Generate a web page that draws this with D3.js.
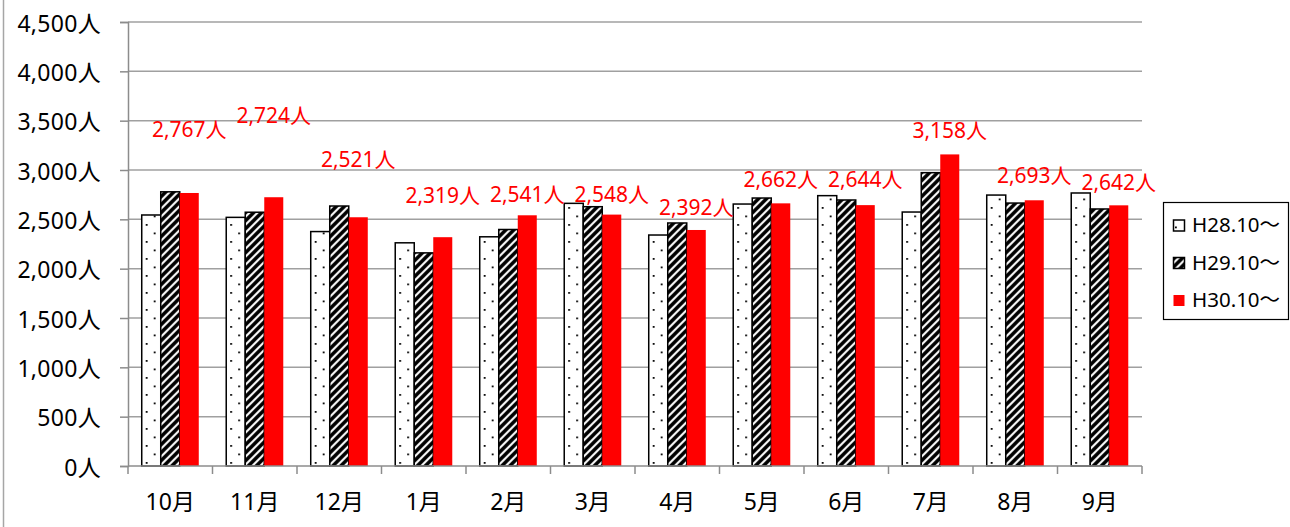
<!DOCTYPE html>
<html>
<head>
<meta charset="utf-8">
<script src="https://cdn.jsdelivr.net/npm/d3@7/dist/d3.min.js"></script>
<style>
  body { margin: 0; background: #fff; }
  svg { display: block; }
</style>
</head>
<body>
<div id="chart"></div>
<script>
const W = 1290;
const H = 527;

// Data
const months = ["10月", "11月", "12月", "1月", "2月", "3月", "4月", "5月", "6月", "7月", "8月", "9月"];
const seriesNames = ["H28.10〜", "H29.10〜", "H30.10〜"];
const h28 = [2544, 2520, 2376, 2262, 2323, 2662, 2341, 2655, 2740, 2574, 2746, 2767];
const h29 = [2779, 2572, 2635, 2160, 2397, 2628, 2463, 2716, 2696, 2973, 2665, 2605];
const h30 = [2767, 2724, 2521, 2319, 2541, 2548, 2392, 2662, 2644, 3158, 2693, 2642];
// where the red value labels sit (in people, baseline), hand placed like the original
const labelAt = [3334, 3476, 3033, 2665, 2679, 2679, 2544, 2831, 2831, 3324, 2865, 2797];
const yTicks = [0, 500, 1000, 1500, 2000, 2500, 3000, 3500, 4000, 4500];

const margin = { left: 128, right: 148, top: 22, bottom: 61 };
const fmt = d3.format(",");
const font = "'Noto Sans', 'Noto Sans CJK JP', sans-serif";

const svg = d3.select("#chart")
    .append("svg")
    .attr("width", W)
    .attr("height", H);

// Patterns
const defs = svg.append("defs");

const dots = defs.append("pattern")
    .attr("id", "dots")
    .attr("patternUnits", "userSpaceOnUse")
    .attr("x", 1)
    .attr("y", 0)
    .attr("width", 16)
    .attr("height", 17);
dots.append("rect").attr("width", 16).attr("height", 17).attr("fill", "#fff");
dots.append("rect").attr("x", 3).attr("y", 3).attr("width", 1.8).attr("height", 1.8).attr("fill", "#000");
dots.append("rect").attr("x", 11).attr("y", 11.5).attr("width", 1.8).attr("height", 1.8).attr("fill", "#000");

const hatch = defs.append("pattern")
    .attr("id", "hatch")
    .attr("patternUnits", "userSpaceOnUse")
    .attr("width", 8)
    .attr("height", 8);
hatch.append("rect").attr("width", 8).attr("height", 8).attr("fill", "#fff");
hatch.append("path")
    .attr("d", "M-1,9 L9,-1 M-5,5 L5,-5 M3,13 L13,3")
    .attr("stroke", "#000")
    .attr("stroke-width", 3.6);

const fills = ["url(#dots)", "url(#hatch)", "#ff0000"];
const strokes = ["#000", "#000", "none"];

// Scales
const x = d3.scaleBand()
    .domain(months)
    .range([margin.left, W - margin.right])
    .paddingInner(0.325)
    .paddingOuter(0.1625);

const xs = d3.scaleBand()
    .domain(seriesNames)
    .range([0, x.bandwidth()]);

const y = d3.scaleLinear()
    .domain([0, 4500])
    .range([H - margin.bottom, margin.top]);

const step = x.step();
const plotRight = W - margin.right;

// outer chart border (left edge only shows)
svg.append("line")
    .attr("x1", 3.5).attr("x2", 3.5)
    .attr("y1", 0).attr("y2", H)
    .attr("stroke", "#a6a6a6")
    .attr("stroke-width", 1.5);

// Gridlines
svg.append("g")
    .selectAll("line")
    .data(yTicks.filter(d => d > 0))
    .join("line")
    .attr("x1", margin.left)
    .attr("x2", plotRight)
    .attr("y1", d => y(d))
    .attr("y2", d => y(d))
    .attr("stroke", "#a0a0a0")
    .attr("stroke-width", 1.5);

// Y axis
const yAxis = d3.axisLeft(y)
    .tickValues(yTicks)
    .tickSize(8)
    .tickPadding(19)
    .tickFormat(d => fmt(d) + "人");

svg.append("g")
    .attr("class", "y-axis")
    .attr("transform", `translate(${margin.left},0)`)
    .call(yAxis)
    .call(g => g.select(".domain").attr("stroke", "#8c8c8c").attr("stroke-width", 1.5))
    .call(g => g.selectAll(".tick line").attr("stroke", "#8c8c8c").attr("stroke-width", 1.5))
    .call(g => g.selectAll(".tick text")
        .attr("fill", "#000")
        .attr("dy", "0.4em")
        .style("font-family", font)
        .style("font-size", "23px")
        .style("letter-spacing", "0.3px"));

// Bars
const data = months.map((m, i) => ({ month: m, values: [h28[i], h29[i], h30[i]] }));

const groups = svg.append("g")
    .selectAll("g")
    .data(data)
    .join("g")
    .attr("transform", d => `translate(${x(d.month)},0)`);

groups.selectAll("rect")
    .data(d => d.values.map((v, k) => ({ k: k, v: v })))
    .join("rect")
    .attr("x", d => xs(seriesNames[d.k]))
    .attr("y", d => y(d.v))
    .attr("width", xs.bandwidth())
    .attr("height", d => y(0) - y(d.v))
    .attr("fill", d => fills[d.k])
    .attr("stroke", d => strokes[d.k])
    .attr("stroke-width", 1.5);

// X axis
const xAxisG = svg.append("g")
    .attr("class", "x-axis")
    .attr("transform", `translate(0,${y(0)})`);

xAxisG.append("line")
    .attr("x1", margin.left).attr("x2", plotRight)
    .attr("stroke", "#8c8c8c").attr("stroke-width", 1.5);

xAxisG.selectAll(".xt")
    .data(d3.range(months.length + 1))
    .join("line")
    .attr("class", "xt")
    .attr("x1", i => margin.left + i * step)
    .attr("x2", i => margin.left + i * step)
    .attr("y1", 0).attr("y2", 8)
    .attr("stroke", "#8c8c8c").attr("stroke-width", 1.5);

xAxisG.selectAll("text")
    .data(months)
    .join("text")
    .attr("x", d => x(d) + x.bandwidth() / 2)
    .attr("y", 44)
    .attr("text-anchor", "middle")
    .attr("fill", "#000")
    .style("font-family", font)
    .style("font-size", "23px")
    .text(d => d);

// Red value labels
svg.append("g")
    .selectAll("text")
    .data(h30)
    .join("text")
    .attr("x", (d, i) => x(months[i]) + xs(seriesNames[2]) + xs.bandwidth() / 2)
    .attr("y", (d, i) => y(labelAt[i]))
    .attr("text-anchor", "middle")
    .attr("fill", "#ff0000")
    .style("font-family", font)
    .style("font-size", "21px")
    .text(d => fmt(d) + "人");

// Legend
const legend = svg.append("g")
    .attr("transform", "translate(1163,202)");

legend.append("rect")
    .attr("x", 0.5).attr("y", 0.5)
    .attr("width", 125).attr("height", 117)
    .attr("fill", "#fff")
    .attr("stroke", "#000")
    .attr("stroke-width", 1.2);

const items = legend.selectAll(".item")
    .data(seriesNames)
    .join("g")
    .attr("class", "item")
    .attr("transform", (d, i) => `translate(0,${30 + i * 37.5})`);

items.append("rect")
    .attr("x", 10.5)
    .attr("y", -12)
    .attr("width", 11)
    .attr("height", 11)
    .attr("fill", (d, i) => fills[i])
    .attr("stroke", (d, i) => strokes[i])
    .attr("stroke-width", 1.5);

items.append("text")
    .attr("x", 29)
    .attr("y", 0)
    .attr("fill", "#000")
    .style("font-family", font)
    .style("font-size", "20.5px")
    .text(d => d);
</script>
</body>
</html>
